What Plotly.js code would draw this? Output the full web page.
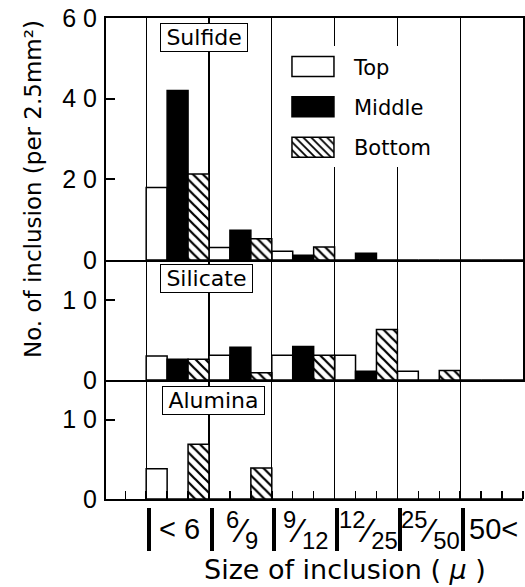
<!DOCTYPE html>
<html><head><meta charset="utf-8">
<script src="https://cdn.plot.ly/plotly-3.0.1.min.js"></script>
<style>html,body{margin:0;padding:0;background:#fff}</style>
</head><body><div id="chart" style="width:525px;height:587px"></div>
<script>
// ---- data ----
const categories = [0, 1, 2, 3, 4, 5];
const categoryNames = ["< 6", "6/9", "9/12", "12/25", "25/50", "50<"];
// tick labels: plain text or [numerator, denominator]
const tickLabels = ["&lt; 6", ["6", "9"], ["9", "12"], ["12", "25"], ["25", "50"], "50&lt;"];
const seriesNames = ["Top", "Middle", "Bottom"];
const panelNames = ["Sulfide", "Silicate", "Alumina"];

const sulfideTop    = [18, 3.1, 2.2, 0, 0, 0];
const sulfideMiddle = [42, 7.4, 1.2, 1.7, 0, 0];
const sulfideBottom = [21.3, 5.3, 3.2, 0, 0, 0];

const silicateTop    = [3.0, 3.1, 3.1, 3.1, 1.1, 0];
const silicateMiddle = [2.6, 4.1, 4.2, 1.1, 0, 0];
const silicateBottom = [2.6, 0.9, 3.1, 6.3, 1.2, 0];

const aluminaTop    = [3.8, 0, 0, 0, 0, 0];
const aluminaMiddle = [0, 0, 0, 0, 0, 0];
const aluminaBottom = [6.9, 3.9, 0, 0, 0, 0];

const sulfideTicks = [0, 20, 40, 60];
const sulfideTickText = ["0", "2 0", "4 0", "6 0"];
const smallTicks = [0, 10];
const smallTickText = ["0", "1 0"];

// ---- build ----
const NUMFONT = "Liberation Sans, Arial, sans-serif";
const LABFONT = "Liberation Sans Narrow, Liberation Sans, Arial, sans-serif";
const WORDFONT = "DejaVu Sans, Liberation Sans, sans-serif";
const styles = [
  {color: "#ffffff", line: {color: "#000", width: 1.5}},
  {color: "#000000", line: {color: "#000", width: 1.5}},
  {color: "#ffffff", line: {color: "#000", width: 1.5},
   pattern: {shape: "\\", size: 7, solidity: 0.32, fgcolor: "#000", bgcolor: "#fff", fillmode: "replace"}}
];
const panels = [
  {vals: [sulfideTop, sulfideMiddle, sulfideBottom], xa: "x3", ya: "y3", legend: true},
  {vals: [silicateTop, silicateMiddle, silicateBottom], xa: "x2", ya: "y2", legend: false},
  {vals: [aluminaTop, aluminaMiddle, aluminaBottom], xa: "x", ya: "y", legend: false}
];
const traces = [];
panels.forEach(p => {
  p.vals.forEach((v, k) => {
    traces.push({
      type: "bar", x: categories, y: v, name: seriesNames[k],
      xaxis: p.xa, yaxis: p.ya, showlegend: p.legend, legendgroup: seriesNames[k],
      marker: styles[k]
    });
  });
});
// carrier for the separator axis below the plot
traces.push({type: "scatter", mode: "markers", x: [], y: [], xaxis: "x4", yaxis: "y",
  showlegend: false, hoverinfo: "skip"});

const xRange = [-1.14, 5.5];
const bounds = categories.map(c => c - 0.5);
const xBase = {
  range: xRange, tickmode: "array", tickvals: bounds, showticklabels: false,
  showgrid: true, gridcolor: "#000", gridwidth: 1.3, zeroline: false,
  showline: true, linecolor: "#000", linewidth: 2, ticks: ""
};
const yBase = {
  showgrid: false, zeroline: false, showline: true, linecolor: "#000", linewidth: 2,
  ticks: "inside", ticklen: 9, tickwidth: 2, tickcolor: "#000",
  tickfont: {family: NUMFONT, size: 25, color: "#000"}, ticklabelstandoff: 2
};

const annotations = [];
const boxY = [0.9897, 0.4969, 0.2475];
const boxX = [0.1295, 0.1295, 0.134];
panelNames.forEach((n, i) => annotations.push({
  text: "\u2009" + n + "\u2009", xref: "paper", yref: "paper", x: boxX[i], y: boxY[i],
  xanchor: "left", yanchor: "top", showarrow: false,
  font: {family: WORDFONT, size: 22, color: "#000"},
  bgcolor: "#fff", bordercolor: "#000", borderwidth: 1, borderpad: 1
}));
categories.forEach((c, i) => {
  const lab = tickLabels[i];
  const frac = Array.isArray(lab);
  annotations.push({
    text: frac ? "<sup>" + lab[0] + "</sup>\u2044<sub>" + lab[1] + "</sub>" : lab,
    xref: "x", yref: "paper", x: c, y: frac ? -0.047 : -0.045, xshift: 2,
    xanchor: "center", yanchor: "middle", showarrow: false, borderpad: 0,
    font: {family: LABFONT, size: frac ? 34 : 29, color: "#000"}
  });
});
annotations.push({
  text: "Size of inclusion ( <i>μ</i> )", xref: "paper", yref: "paper",
  x: 0.573, y: -0.1288, xanchor: "center", yanchor: "middle", showarrow: false,
  font: {family: WORDFONT, size: 27, color: "#000"}
});
annotations.push({
  text: "No. of inclusion (per 2.5mm²)", xref: "paper", yref: "paper",
  x: -0.175, y: 0.6503, xanchor: "center", yanchor: "middle", showarrow: false,
  textangle: -90, font: {family: WORDFONT, size: 23, color: "#000"}
});

const sepShift = 0.04;
const layout = {
  width: 525, height: 587,
  margin: {l: 106, r: 2, t: 18, b: 80},
  paper_bgcolor: "#fff", plot_bgcolor: "#fff",
  barmode: "group", bargap: 0, bargroupgap: 0,
  font: {family: NUMFONT, color: "#000"},
  xaxis: Object.assign({}, xBase, {anchor: "y",
    minor: {tickmode: "linear", tick0: -0.5, dtick: 1/3, ticks: "inside", ticklen: 8, tickwidth: 1.5, tickcolor: "#000", showgrid: false}}),
  xaxis2: Object.assign({}, xBase, {anchor: "y2"}),
  xaxis3: Object.assign({}, xBase, {anchor: "y3", mirror: true}),
  xaxis4: {overlaying: "x", anchor: "free", position: 0,
    range: [xRange[0] - sepShift, xRange[1] - sepShift],
    tickmode: "array", tickvals: bounds, ticks: "outside", ticklen: 43, tickwidth: 4,
    tickcolor: "#000", showticklabels: false, showline: false, showgrid: false, zeroline: false},
  yaxis: Object.assign({}, yBase, {domain: [0.01636, 0.2597], range: [0, 15],
    tickvals: smallTicks, ticktext: smallTickText}),
  yaxis2: Object.assign({}, yBase, {domain: [0.2597, 0.5051], range: [0, 15],
    tickvals: smallTicks, ticktext: smallTickText, mirror: true}),
  yaxis3: Object.assign({}, yBase, {domain: [0.5051, 1], range: [0, 60],
    tickvals: sulfideTicks, ticktext: sulfideTickText, mirror: true}),
  showlegend: true,
  legend: {x: 0.398, y: 0.9419, xanchor: "left", yanchor: "top",
    bgcolor: "#fff", borderwidth: 0, itemwidth: 72, tracegroupgap: 10,
    traceorder: "grouped", font: {family: WORDFONT, size: 21, color: "#000"}},
  annotations: annotations
};

Plotly.newPlot("chart", traces, layout, {staticPlot: true}).then(() => {
  document.querySelectorAll("#chart .legend .legendpoints path").forEach(p => {
    p.setAttribute("d", "M21,10H-21V-10H21Z");
  });
});
</script>
</body></html>
